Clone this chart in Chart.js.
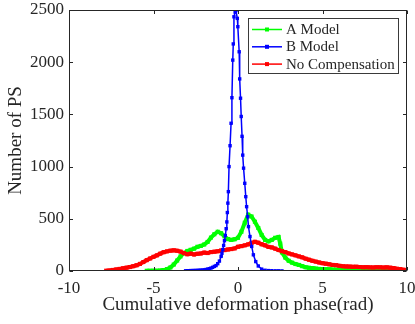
<!DOCTYPE html>
<html>
<head>
<meta charset="utf-8">
<script src="https://cdn.jsdelivr.net/npm/chart.js@4.4.0/dist/chart.umd.min.js"></script>
<style>
  html, body { margin: 0; padding: 0; background: #fff; }
  #wrap { width: 415px; height: 324px; }
</style>
</head>
<body>
<div id="wrap"><canvas id="phase-chart" width="415" height="324"></canvas></div>
<script>
// histogram counts per phase bin, [phase (rad), number of PS]
const modelA = [
  [-5.4,2],[-5.2,2],[-5.0,3],[-4.8,3],[-4.6,5],[-4.4,9],[-4.2,18],[-4.0,34],[-3.8,62],[-3.6,100],
  [-3.4,140],[-3.2,172],[-3.0,192],[-2.8,203],[-2.6,214],[-2.4,232],[-2.2,240],[-2.0,254],[-1.8,278],
  [-1.6,320],[-1.4,352],[-1.2,376],[-1.0,362],[-0.8,332],[-0.6,306],[-0.4,298],[-0.2,304],[0.0,318],
  [0.2,376],[0.4,462],[0.6,540],[0.8,522],[1.0,472],[1.2,412],[1.4,345],[1.6,298],[1.8,284],[2.0,298],
  [2.2,318],[2.4,326],[2.5,262],[2.6,178],[2.8,128],[3.0,98],[3.2,80],[3.4,67],[3.6,58],[3.8,46],
  [4.0,36],[4.2,31],[4.4,28],[4.6,23],[4.8,20],[5.0,18],[5.2,17],[5.4,16],[5.6,14],[5.8,13],[6.0,12],
  [6.2,11],[6.4,11],[6.6,10],[6.8,9],[7.0,9],[7.2,8],[7.4,8],[7.6,7],[7.8,7],[8.0,6],[8.2,6],[8.4,6],
  [8.6,5],[8.8,5],[9.0,4],[9.2,3]
];
const modelB = [
  [-3.1,2],[-3.0,3],[-2.9,3],[-2.8,4],[-2.7,4],[-2.6,5],[-2.5,5],[-2.4,6],[-2.3,7],[-2.2,8],[-2.1,9],
  [-2.0,11],[-1.9,14],[-1.8,18],[-1.7,22],[-1.6,28],[-1.5,35],[-1.4,44],[-1.3,52],[-1.2,70],[-1.1,95],
  [-1.0,140],[-0.95,170],[-0.9,205],[-0.85,245],[-0.8,290],[-0.75,340],[-0.7,405],[-0.66,470],
  [-0.63,560],[-0.6,650],[-0.57,760],[-0.53,1000],[-0.47,1200],[-0.41,1415],[-0.36,1660],[-0.31,2020],
  [-0.28,2175],[-0.24,2435],[-0.17,2480],[-0.12,2495],[-0.04,2420],[-0.01,2340],[0.07,2100],[0.1,1840],
  [0.15,1655],[0.19,1480],[0.24,1290],[0.28,1110],[0.33,985],[0.4,840],[0.46,712],[0.51,616],[0.57,520],
  [0.62,425],[0.71,330],[0.81,235],[0.91,155],[1.05,90],[1.2,48],[1.4,18],[1.6,7],[1.8,4],[2.0,3],
  [2.2,2],[2.4,2],[2.6,1]
];
const noComp = [
  [-7.8,3],[-7.6,6],[-7.4,10],[-7.2,15],[-7.0,20],[-6.8,26],[-6.6,32],[-6.4,38],[-6.2,46],[-6.0,55],
  [-5.8,68],[-5.6,86],[-5.4,104],[-5.2,120],[-5.0,136],[-4.8,150],[-4.6,166],[-4.4,180],[-4.2,188],
  [-4.0,195],[-3.8,198],[-3.6,194],[-3.4,186],[-3.2,171],[-3.0,160],[-2.8,166],[-2.6,158],[-2.4,165],
  [-2.2,168],[-2.0,176],[-1.8,172],[-1.6,181],[-1.4,185],[-1.2,189],[-1.0,196],[-0.8,200],[-0.6,206],
  [-0.4,210],[-0.2,216],[0.0,232],[0.2,238],[0.4,246],[0.6,255],[0.8,270],[1.0,280],[1.2,271],
  [1.4,256],[1.6,246],[1.8,231],[2.0,226],[2.2,214],[2.4,201],[2.6,190],[2.8,181],[3.0,168],[3.2,159],
  [3.4,150],[3.6,140],[3.8,131],[4.0,118],[4.2,108],[4.4,98],[4.6,90],[4.8,82],[5.0,75],[5.2,70],
  [5.4,64],[5.6,58],[5.8,56],[6.0,50],[6.2,46],[6.4,44],[6.6,42],[6.8,40],[7.0,41],[7.2,38],[7.4,36],
  [7.6,37],[7.8,35],[8.0,34],[8.2,36],[8.4,35],[8.6,33],[8.8,35],[9.0,32],[9.2,28],[9.4,22],[9.6,18],
  [9.8,12],[10.0,6]
];
const seriesNames = ['A Model', 'B Model', 'No Compensation'];
const xTicks = [-10, -5, 0, 5, 10];
const yTicks = [0, 500, 1000, 1500, 2000, 2500];

const FONT = "'Liberation Serif', 'Times New Roman', serif";
const INK = '#262626';

function toPoints(rows) {
  return rows.map(([x, y]) => ({ x, y }));
}

// boxed axes with inward ticks on all four sides
const frame = {
  id: 'frame',
  afterDatasetsDraw(chart) {
    const { ctx, chartArea: a, scales: { x, y } } = chart;
    const L = Math.round(a.left) + 0.5, R = Math.round(a.right) - 0.5;
    const T = Math.round(a.top) + 0.5, B = Math.round(a.bottom) - 0.5;
    const len = 3.5;
    ctx.save();
    ctx.strokeStyle = INK;
    ctx.lineWidth = 1;
    ctx.strokeRect(L, T, R - L, B - T);
    ctx.beginPath();
    x.ticks.forEach(t => {
      const px = Math.round(x.getPixelForValue(t.value)) + 0.5;
      ctx.moveTo(px, B); ctx.lineTo(px, B - len);
      ctx.moveTo(px, T); ctx.lineTo(px, T + len);
    });
    y.ticks.forEach(t => {
      const py = Math.round(y.getPixelForValue(t.value)) + 0.5;
      ctx.moveTo(L, py); ctx.lineTo(L + len, py);
      ctx.moveTo(R, py); ctx.lineTo(R - len, py);
    });
    ctx.stroke();
    ctx.restore();
  }
};

// legend box in the upper right corner of the plot
const boxLegend = {
  id: 'boxLegend',
  afterDraw(chart) {
    const ctx = chart.ctx;
    const bx = 248.5, by = 18.5, bw = 150, bh = 55;
    ctx.save();
    ctx.fillStyle = '#fff';
    ctx.fillRect(bx, by, bw, bh);
    ctx.strokeStyle = '#3a3a3a';
    ctx.lineWidth = 1;
    ctx.strokeRect(bx, by, bw, bh);
    ctx.font = '15px ' + FONT;
    ctx.textBaseline = 'middle';
    ctx.textAlign = 'left';
    chart.data.datasets.forEach((ds, i) => {
      const ry = 29.5 + i * 17.3;
      ctx.strokeStyle = ds.borderColor;
      ctx.lineWidth = 1.5;
      ctx.beginPath();
      ctx.moveTo(252, ry); ctx.lineTo(282, ry);
      ctx.stroke();
      ctx.fillStyle = ds.borderColor;
      ctx.fillRect(265, ry - 2, 4, 4);
      ctx.fillStyle = INK;
      ctx.fillText(ds.label, 286, ry + 0.5);
    });
    ctx.restore();
  }
};

const ctxPhase = document.getElementById('phase-chart').getContext('2d');
new Chart(ctxPhase, {
  type: 'line',
  data: {
    datasets: [
      {
        label: seriesNames[0], data: toPoints(modelA), order: 2,
        borderColor: '#00ff00', backgroundColor: '#00ff00', borderWidth: 4,
        pointStyle: 'rect', pointRadius: 2.9, pointBorderWidth: 0, tension: 0
      },
      {
        label: seriesNames[1], data: toPoints(modelB), order: 0,
        borderColor: '#0000ff', backgroundColor: '#0000ff', borderWidth: 1.5,
        pointStyle: 'rect', pointRadius: 2.4, pointBorderWidth: 0, tension: 0
      },
      {
        label: seriesNames[2], data: toPoints(noComp), order: 1,
        borderColor: '#ff0000', backgroundColor: '#ff0000', borderWidth: 4,
        pointStyle: 'rect', pointRadius: 2.9, pointBorderWidth: 0, tension: 0
      }
    ]
  },
  options: {
    responsive: false,
    animation: false,
    devicePixelRatio: 1,
    layout: { padding: { top: 10, right: 8, bottom: 0, left: 0 } },
    plugins: { legend: { display: false }, tooltip: { enabled: false } },
    scales: {
      x: {
        type: 'linear', min: -10, max: 10,
        afterBuildTicks: s => { s.ticks = xTicks.map(v => ({ value: v })); },
        afterFit: s => { s.height = 53; s.paddingLeft = 0; s.paddingRight = 0; },
        grid: { display: false, drawTicks: false },
        border: { display: false },
        ticks: {
          padding: 7, color: INK, font: { family: FONT, size: 17 }, maxRotation: 0,
          callback: v => String(v)
        },
        title: {
          display: true, text: 'Cumulative deformation phase(rad)', color: INK,
          font: { family: FONT, size: 19 }, padding: { top: 0, bottom: 8 }
        }
      },
      y: {
        type: 'linear', min: 0, max: 2500,
        afterBuildTicks: s => { s.ticks = yTicks.map(v => ({ value: v })); },
        afterFit: s => { s.width = 69; s.paddingTop = 0; s.paddingBottom = 0; },
        grid: { display: false, drawTicks: false },
        border: { display: false },
        ticks: { padding: 5, color: INK, font: { family: FONT, size: 17 }, callback: v => String(v) },
        title: {
          display: true, text: 'Number of PS', color: INK,
          font: { family: FONT, size: 19 }, padding: { top: 5, bottom: 0 }
        }
      }
    }
  },
  plugins: [frame, boxLegend]
});
</script>
</body>
</html>
